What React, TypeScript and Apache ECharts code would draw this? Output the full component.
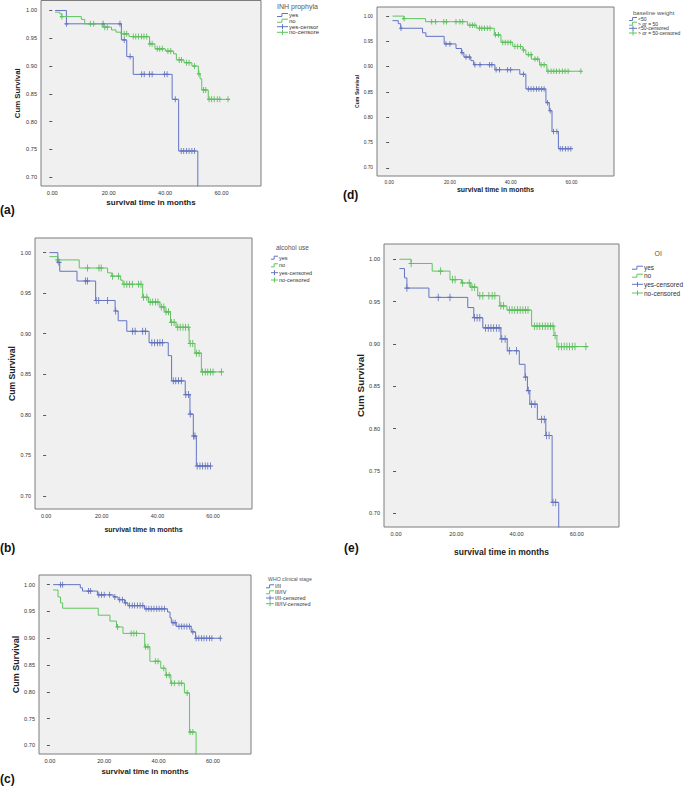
import React, { useEffect, useRef } from "react";
import * as echarts from "echarts";

const X_TICKS = [0, 20, 40, 60];
const Y_TICKS = [0.7, 0.75, 0.8, 0.85, 0.9, 0.95, 1.0];
const X_TITLE = "survival time in months";
const Y_TITLE = "Cum Survival";

// (a) INH prophylaxis
const A_YES_TIMES = [1, 5, 24.5, 26.4, 28.7, 42.5, 44.8, 51.6];
const A_YES_SURV = [1.0, 0.976, 0.947, 0.917, 0.885, 0.84, 0.747, 0.6];
const A_YES_CENSOR = [5, 18, 24, 25.5, 27.6, 31.7, 32.6, 34.5, 35.4, 39.8, 40.7, 43.6, 45.7, 46.6, 47.6, 48.5, 49.5, 50.4];
const A_NO_TIMES = [1, 2.7, 3.4, 10.3, 11.5, 17.7, 21, 22.6, 24.3, 27.2, 34.5, 36.4, 40.1, 43, 44, 46.7, 49.5, 51.8, 52.4, 53, 55.3];
const A_NO_SURV = [0.997, 0.994, 0.989, 0.984, 0.976, 0.97, 0.965, 0.961, 0.958, 0.953, 0.94, 0.931, 0.927, 0.922, 0.911, 0.906, 0.9, 0.886, 0.877, 0.857, 0.84];
const A_NO_CENSOR = [3.4, 13.5, 14.7, 18.6, 19.5, 25.5, 26.4, 28.7, 29.6, 30.6, 31.6, 32.5, 33.5, 34.6, 35.4, 37.2, 38.1, 39, 41, 42, 45, 45.8, 47.6, 48.5, 50.4, 52, 53.6, 54.4, 55.6, 56.5, 57.4, 58.5, 59.4, 62.3];

// (d) baseline weight
const D_LT50_TIMES = [1.1, 3, 3.8, 11, 12.1, 18.1, 22, 23.8, 24.6, 26.9, 27.8, 34.8, 43, 45, 51.6, 52.7, 53.6, 55.7];
const D_LT50_SURV = [0.991, 0.985, 0.976, 0.967, 0.96, 0.945, 0.936, 0.928, 0.919, 0.912, 0.904, 0.894, 0.885, 0.856, 0.829, 0.813, 0.772, 0.738];
const D_LT50_CENSOR = [3.9, 18.7, 20, 24, 25.3, 26.4, 28.2, 29.9, 33, 33.8, 35.2, 36.3, 39, 40, 44.2, 45.8, 46.7, 47.6, 48.5, 49.3, 50.2, 51, 52.1, 53, 54.1, 55.2, 56.3, 57.1, 58, 58.9, 59.8];
const D_GE50_TIMES = [1.1, 4.9, 12, 25.8, 28.8, 34.6, 36.8, 40.7, 44, 45, 46.8, 49.5, 51.9];
const D_GE50_SURV = [1.0, 0.995, 0.989, 0.982, 0.976, 0.963, 0.948, 0.94, 0.933, 0.924, 0.915, 0.904, 0.891];
const D_GE50_CENSOR = [4.9, 14, 15.3, 18, 18.9, 22, 23.3, 24.2, 26.6, 27.4, 28.2, 29.7, 30.5, 31.4, 32.3, 33.2, 35, 36, 37.4, 38.2, 39.1, 40, 41.4, 42.3, 43.2, 44.2, 45.8, 46.7, 48, 48.9, 50, 51, 52.3, 53.3, 54.2, 55.1, 56, 57, 57.9, 58.9, 63.1];

// (b) alcohol use
const B_YES_TIMES = [1.2, 4.2, 4.9, 11.1, 17.8, 24.8, 25.9, 29, 37, 43.9, 45.1, 50, 51.7, 52.9, 54];
const B_YES_SURV = [1.0, 0.988, 0.977, 0.965, 0.941, 0.928, 0.916, 0.903, 0.889, 0.873, 0.842, 0.825, 0.801, 0.774, 0.737];
const B_YES_CENSOR = [4.6, 14.2, 14.9, 18, 18.9, 22.1, 25, 31.1, 32, 34.7, 35.7, 38, 39, 40, 40.9, 41.8, 45.7, 46.6, 47.6, 48.6, 50.2, 51.2, 51.8, 53, 53.5, 54.3, 55.3, 56.2, 57.2, 58.1, 59.1];
const B_NO_TIMES = [1.2, 4.2, 11.9, 22.1, 23.6, 26.8, 27.6, 34.7, 36.8, 40.9, 42.7, 44.7, 46.7, 51.4, 53.5, 55.8];
const B_NO_SURV = [0.995, 0.991, 0.981, 0.975, 0.971, 0.966, 0.961, 0.945, 0.939, 0.933, 0.927, 0.914, 0.908, 0.888, 0.876, 0.853];
const B_NO_CENSOR = [4.2, 14.9, 19, 19.8, 23.9, 26, 28, 29, 30, 31, 33.2, 34.1, 35, 36.2, 37.4, 38.3, 39.3, 40.2, 41.4, 42.3, 43.1, 44, 45.1, 46, 47.3, 48.2, 49.2, 50.1, 51.1, 51.8, 52.7, 54, 55, 56.2, 57.2, 58.1, 59.1, 60, 63];

// (e) OI
const E_YES_TIMES = [1.1, 2.8, 3.6, 10.9, 23.8, 25.8, 28.8, 34.8, 36.9, 40.9, 42.8, 43.6, 44.4, 46.9, 49.7, 51.8, 54];
const E_YES_SURV = [0.989, 0.978, 0.966, 0.955, 0.943, 0.931, 0.919, 0.906, 0.892, 0.876, 0.861, 0.845, 0.829, 0.811, 0.792, 0.713, 0.55];
const E_YES_CENSOR = [3.6, 14, 17.9, 26, 26.9, 27.8, 29.7, 30.6, 31.5, 32.4, 33.3, 34.2, 35.1, 36.2, 37.6, 40, 43, 43.9, 45, 46.1, 48.3, 49.2, 49.9, 50.8, 52.1, 53];
const E_NO_TIMES = [1.1, 5, 12, 17.9, 21.7, 24.8, 27.1, 34.4, 36.8, 45, 52.4, 53.4];
const E_NO_SURV = [1.0, 0.995, 0.986, 0.976, 0.972, 0.967, 0.957, 0.945, 0.94, 0.921, 0.91, 0.897];
const E_NO_CENSOR = [5, 14.8, 18.7, 19.6, 22.1, 24.3, 25.2, 26.1, 27.8, 28.8, 30.8, 31.9, 32.8, 34.8, 35.7, 37.6, 38.5, 39.4, 40.3, 41.2, 42.1, 43, 43.8, 45.9, 46.8, 47.7, 48.6, 49.5, 50.4, 51.3, 52.1, 52.8, 54, 54.9, 55.8, 56.7, 57.6, 58.5, 59.4, 63];

// (c) WHO clinical stage
const C_I_TIMES = [1.2, 11.2, 12, 17.5, 23.3, 25.1, 27.5, 28.7, 34.8, 43.3, 44.2, 44.7, 46.5, 52, 53.6];
const C_I_SURV = [1.0, 0.994, 0.988, 0.981, 0.977, 0.972, 0.966, 0.961, 0.955, 0.949, 0.938, 0.929, 0.922, 0.912, 0.9];
const C_I_CENSOR = [3.9, 4.7, 14.2, 15, 18, 19, 20, 22, 23.9, 25.7, 26.7, 27.8, 29.3, 30.3, 31.2, 32.2, 33.2, 34.2, 35.4, 36.4, 37.3, 38.3, 39.3, 40.2, 41.2, 42.2, 45.3, 46.1, 47.5, 48.5, 49.4, 50.4, 51.4, 52.6, 53.8, 54.8, 55.8, 56.7, 57.7, 58.7, 59.6, 62.7];
const C_III_TIMES = [1.2, 3, 3.9, 4.7, 17.8, 22.1, 24.5, 26.9, 34.9, 36.8, 40.8, 42.7, 44.5, 49.5, 51.4, 53.8];
const C_III_SURV = [0.99, 0.977, 0.966, 0.956, 0.943, 0.932, 0.921, 0.909, 0.884, 0.857, 0.844, 0.831, 0.816, 0.798, 0.725, 0.55];
const C_III_CENSOR = [24.9, 29.9, 30.9, 31.9, 35.2, 36.1, 38.8, 39.8, 41.9, 42.9, 43.9, 44.8, 45.8, 47.5, 48.5, 50.5, 51.6, 52.6];

const BLUE = "#6274c4";
const BLUE_MARK = "#3f51aa";
const GREEN = "#5ec65e";
const GREEN_MARK = "#33aa33";
const FONT = "'Liberation Sans', Arial, sans-serif";

function survAt(times: number[], surv: number[], t: number) {
  let s = surv[0];
  for (let i = 0; i < times.length; i++) if (times[i] <= t + 1e-9) s = surv[i];
  return s;
}

function stepData(times: number[], surv: number[], censor: number[]) {
  const d: number[][] = times.map((t, i) => [t, surv[i]]);
  const end = Math.max(times[times.length - 1], ...censor);
  if (end > times[times.length - 1]) d.push([end, surv[surv.length - 1]]);
  return d;
}

const PANELS = [
  {
    grid: { left: 41, top: 0.5, width: 220, height: 185.5 },
    tick: 5.6, xName: 8, yName: 7.8, xGap: 12, yGap: 20, mark: [4, 6],
    curves: [
      { t: A_YES_TIMES, s: A_YES_SURV, c: A_YES_CENSOR, color: BLUE, mc: BLUE_MARK },
      { t: A_NO_TIMES, s: A_NO_SURV, c: A_NO_CENSOR, color: GREEN, mc: GREEN_MARK },
    ],
    label: { text: "(a)", x: 0, y: 210 },
    legend: { title: "INH prophyla", tx: 277, ty: 6, talign: "left", tsize: 7, x: 277, w: 11, textX: 289, ys: [15, 20.7, 26.7, 32.3], size: 6, labels: ["yes", "no", "yes-censor", "no-censore"] },
  },
  {
    grid: { left: 377, top: 7, width: 237, height: 169 },
    tick: 4.8, xName: 6.9, yName: 5.2, xGap: 9.5, yGap: 16.5, mark: [4, 5.5],
    curves: [
      { t: D_LT50_TIMES, s: D_LT50_SURV, c: D_LT50_CENSOR, color: BLUE, mc: BLUE_MARK },
      { t: D_GE50_TIMES, s: D_GE50_SURV, c: D_GE50_CENSOR, color: GREEN, mc: GREEN_MARK },
    ],
    label: { text: "(d)", x: 343, y: 195 },
    legend: { title: "baseline weight", tx: 633, ty: 12.7, talign: "left", tsize: 6, x: 629, w: 8, textX: 638, ys: [19, 23.7, 28.3, 33], size: 5, labels: ["<50", "> or = 50", "<50-censored", "> or = 50-censored"] },
  },
  {
    grid: { left: 35, top: 238, width: 217, height: 271 },
    tick: 5.4, xName: 7, yName: 8.6, xGap: 17, yGap: 14.5, mark: [5, 7],
    curves: [
      { t: B_YES_TIMES, s: B_YES_SURV, c: B_YES_CENSOR, color: BLUE, mc: BLUE_MARK },
      { t: B_NO_TIMES, s: B_NO_SURV, c: B_NO_CENSOR, color: GREEN, mc: GREEN_MARK },
    ],
    label: { text: "(b)", x: 0, y: 548 },
    legend: { title: "alcohol use", tx: 276, ty: 247, talign: "left", tsize: 6.5, x: 271, w: 7, textX: 279, ys: [257.7, 265.3, 272.7, 280], size: 5.5, labels: ["yes", "no", "yes-censored", "no-censored"] },
  },
  {
    grid: { left: 384, top: 244, width: 235, height: 283 },
    tick: 5.6, xName: 8.5, yName: 9.9, xGap: 20.5, yGap: 19, mark: [5, 7.5],
    curves: [
      { t: E_YES_TIMES, s: E_YES_SURV, c: E_YES_CENSOR, color: BLUE, mc: BLUE_MARK },
      { t: E_NO_TIMES, s: E_NO_SURV, c: E_NO_CENSOR, color: GREEN, mc: GREEN_MARK },
    ],
    label: { text: "(e)", x: 344, y: 548 },
    legend: { title: "OI", tx: 658.3, ty: 253.3, talign: "center", tsize: 7, x: 632, w: 11, textX: 644, ys: [267.7, 275.7, 284.3, 293], size: 6.5, labels: ["yes", "no", "yes-censored", "no-censored"] },
  },
  {
    grid: { left: 39, top: 575, width: 212, height: 179 },
    tick: 5.6, xName: 7.8, yName: 9, xGap: 13, yGap: 17.5, mark: [4, 6],
    curves: [
      { t: C_I_TIMES, s: C_I_SURV, c: C_I_CENSOR, color: BLUE, mc: BLUE_MARK },
      { t: C_III_TIMES, s: C_III_SURV, c: C_III_CENSOR, color: GREEN, mc: GREEN_MARK },
    ],
    label: { text: "(c)", x: 0, y: 779 },
    legend: { title: "WHO clinical stage", tx: 268, ty: 579.3, talign: "left", tsize: 5.2, x: 266, w: 8, textX: 275, ys: [586.3, 592.3, 598, 603.7], size: 5.5, labels: ["I/II", "III/IV", "I/II-censored", "III/IV-censored"] },
  },
];

const PLUS = "path://M5,0L5,10M1,5L9,5";

function buildOption() {
  const grid: any[] = [];
  const xAxis: any[] = [];
  const yAxis: any[] = [];
  const series: any[] = [];
  const graphic: any[] = [];

  PANELS.forEach((p, i) => {
    grid.push({
      ...p.grid,
      show: true,
      backgroundColor: "#f0f0f0",
      borderColor: "#7d7d7d",
      borderWidth: 1,
      containLabel: false,
    });
    xAxis.push({
      type: "value",
      gridIndex: i,
      min: -4,
      max: 74,
      axisLine: { show: false },
      splitLine: { show: false },
      axisTick: { show: false },
      axisLabel: {
        customValues: X_TICKS,
        formatter: (v: number) => v.toFixed(2),
        fontSize: p.tick,
        color: "#333",
        margin: 4,
        fontFamily: FONT,
      },
      name: X_TITLE,
      nameLocation: "middle",
      nameGap: p.xGap,
      nameTextStyle: { fontWeight: "bold", fontSize: p.xName, color: "#222", fontFamily: FONT },
    });
    yAxis.push({
      type: "value",
      gridIndex: i,
      min: 0.684,
      max: 1.018,
      axisLine: { show: false },
      splitLine: { show: false },
      axisTick: { show: true, customValues: Y_TICKS, length: 3, lineStyle: { color: "#555", width: 1 } },
      axisLabel: {
        customValues: Y_TICKS,
        formatter: (v: number) => v.toFixed(2),
        fontSize: p.tick,
        color: "#333",
        margin: 4,
        fontFamily: FONT,
      },
      name: Y_TITLE,
      nameLocation: "middle",
      nameGap: p.yGap,
      nameTextStyle: { fontWeight: "bold", fontSize: p.yName, color: "#222", fontFamily: FONT },
    });
    p.curves.forEach((c) => {
      series.push({
        type: "line",
        xAxisIndex: i,
        yAxisIndex: i,
        step: "end",
        showSymbol: false,
        clip: true,
        lineStyle: { color: c.color, width: 1 },
        data: stepData(c.t, c.s, c.c),
        silent: true,
      });
      series.push({
        type: "scatter",
        xAxisIndex: i,
        yAxisIndex: i,
        symbol: PLUS,
        symbolSize: p.mark,
        clip: true,
        itemStyle: { color: "rgba(0,0,0,0)", borderColor: c.mc, borderWidth: 1 },
        data: c.c.map((t) => [t, survAt(c.t, c.s, t)]),
        silent: true,
      });
    });

    const L = p.legend;
    graphic.push({
      type: "text",
      x: L.tx,
      y: L.ty,
      silent: true,
      style: { text: L.title, fontSize: L.tsize, fill: "#555555", fontFamily: FONT, align: L.talign, verticalAlign: "middle" },
    });
    L.labels.forEach((lab, k) => {
      const y = L.ys[k];
      const col = k % 2 === 0 ? BLUE : GREEN;
      if (k < 2) {
        const xm = L.x + L.w * 0.45;
        graphic.push({
          type: "polyline",
          silent: true,
          shape: { points: [[L.x, y + 1.5], [xm, y + 1.5], [xm, y - 1.5], [L.x + L.w, y - 1.5]] },
          style: { stroke: col, fill: "none", lineWidth: 1 },
        });
      } else {
        graphic.push({
          type: "line",
          silent: true,
          shape: { x1: L.x, y1: y, x2: L.x + L.w, y2: y },
          style: { stroke: col, lineWidth: 1 },
        });
        graphic.push({
          type: "line",
          silent: true,
          shape: { x1: L.x + L.w / 2, y1: y - 2.5, x2: L.x + L.w / 2, y2: y + 2.5 },
          style: { stroke: col, lineWidth: 1 },
        });
      }
      graphic.push({
        type: "text",
        x: L.textX,
        y,
        silent: true,
        style: { text: lab, fontSize: L.size, fill: "#333333", fontFamily: FONT, align: "left", verticalAlign: "middle" },
      });
    });
    graphic.push({
      type: "text",
      x: p.label.x,
      y: p.label.y,
      silent: true,
      style: { text: p.label.text, fontSize: 12, fontWeight: "bold", fill: "#111111", fontFamily: FONT, align: "left", verticalAlign: "middle" },
    });
  });

  return {
    animation: false,
    backgroundColor: "#ffffff",
    textStyle: { fontFamily: FONT },
    grid,
    xAxis,
    yAxis,
    series,
    graphic,
  };
}

export default function App() {
  const ref = useRef<HTMLDivElement>(null);
  useEffect(() => {
    if (!ref.current) return;
    const chart = echarts.init(ref.current, null, { renderer: "svg" });
    chart.setOption(buildOption() as any);
    return () => chart.dispose();
  }, []);
  return (
    <div
      ref={ref}
      style={{ position: "absolute", left: 0, top: 0, width: 685, height: 786, background: "#fff" }}
    />
  );
}
